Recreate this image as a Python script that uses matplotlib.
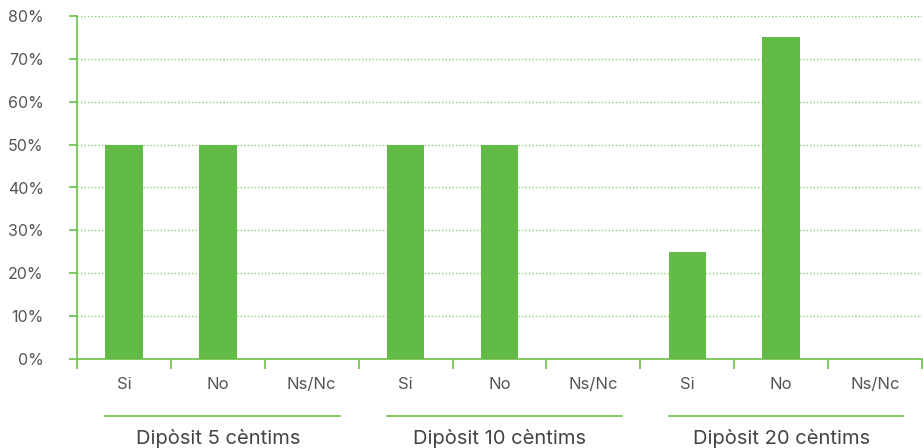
import matplotlib
matplotlib.use("Agg")
import matplotlib.pyplot as plt
import matplotlib.transforms as mtransforms

groups = ["Dipòsit 5 cèntims", "Dipòsit 10 cèntims", "Dipòsit 20 cèntims"]
answers = ["Si", "No", "Ns/Nc"]
values = [
    [50, 50, 0],
    [50, 50, 0],
    [25, 75, 0],
]
yticks = [0, 10, 20, 30, 40, 50, 60, 70, 80]

bar_color = "#62bb47"
axis_color = "#6cc04a"
text_color = "#555555"

plt.rcParams['font.family'] = ['Inter', 'DejaVu Sans']

fig = plt.figure(figsize=(9.23, 4.48), dpi=100)
ax = fig.add_axes([77/923, 1-359/448, (922-77)/923, (359-16)/448])

xs, hs, labels = [], [], []
for g, vals in enumerate(values):
    for i, v in enumerate(vals):
        xs.append(g*3 + i)
        hs.append(v)
        labels.append(answers[i])

ax.bar(xs, hs, width=0.4, color=bar_color, zorder=3)
ax.set_xlim(-0.5, len(xs) - 0.5)
ax.set_ylim(0, 80)

ax.set_yticks(yticks)
ax.set_yticklabels([f"{t}%" for t in yticks], fontsize=11.5, color=text_color)
ax.set_xticks(xs)
ax.set_xticklabels(labels, fontsize=12, color=text_color)
ax.set_xticks([x - 0.5 for x in xs] + [len(xs) - 0.5], minor=True)

ax.tick_params(axis='x', which='major', length=0, pad=13)
ax.tick_params(axis='x', which='minor', length=7, color=axis_color, width=1.2)
ax.tick_params(axis='y', length=6, color=axis_color, width=1.2, pad=18)
for lbl in ax.get_yticklabels():
    lbl.set_horizontalalignment('right')

for t in yticks[1:]:
    ax.axhline(t, color="#8fd175", linestyle=(0, (1, 1.5)), linewidth=1.0, zorder=1)

for s in ['top', 'right']:
    ax.spines[s].set_visible(False)
for s in ['left', 'bottom']:
    ax.spines[s].set_color(axis_color)
    ax.spines[s].set_linewidth(1.2)

trans = mtransforms.blended_transform_factory(ax.transData, ax.transAxes)
for g, name in enumerate(groups):
    ax.plot([g*3 - 0.2, g*3 + 2.3], [-0.166, -0.166], transform=trans,
            color=axis_color, linewidth=1.2, clip_on=False)
    ax.text(g*3 + 1.0, -0.232, name, transform=trans, ha='center', va='center',
            fontsize=14.5, color="#444444")

fig.savefig("out.png", dpi=100)
